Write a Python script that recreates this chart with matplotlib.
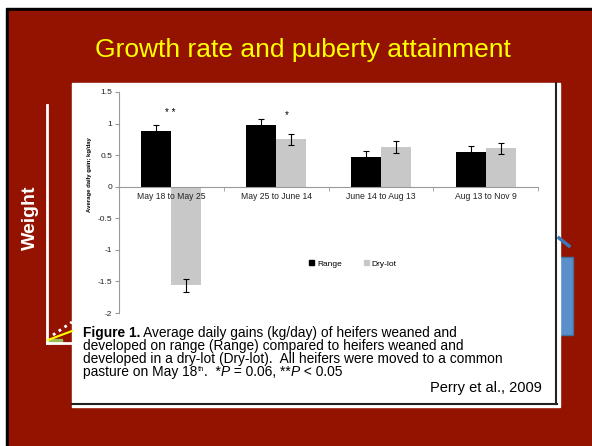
import numpy as np
import matplotlib
matplotlib.use("Agg")
import matplotlib.pyplot as plt
from matplotlib.patches import Rectangle, Patch

plt.rcParams['font.family'] = ['Liberation Sans', 'DejaVu Sans']

# Data
periods = ["May 18 to May 25", "May 25 to June 14", "June 14 to Aug 13", "Aug 13 to Nov 9"]
range_adg = [0.88, 0.97, 0.47, 0.55]
range_err = [0.10, 0.10, 0.10, 0.10]
drylot_adg = [-1.56, 0.75, 0.63, 0.61]
drylot_err = [0.10, 0.09, 0.09, 0.09]
sig_marks = ["* *", "*"]
sig_x = [-0.01, 1.10]
sig_y = [1.17, 1.13]
y_ticks = [-2, -1.5, -1, -0.5, 0, 0.5, 1, 1.5]
y_tick_labels = ["-2", "-1.5", "-1", "-0.5", "0", "0.5", "1", "1.5"]

RED = '#941200'
W, H = 592, 446
CAP = 9.9

fig = plt.figure(figsize=(W / 100, H / 100), dpi=100)
fig.patch.set_facecolor('white')

# slide background, drawn in pixel coordinates
bg = fig.add_axes([0, 0, 1, 1])
bg.set_xlim(0, W)
bg.set_ylim(H, 0)
bg.axis('off')
bg.add_patch(Rectangle((6, 8), W, H, color='black'))
bg.add_patch(Rectangle((9, 11), W, H, color=RED))

bg.text(303, 57, "Growth rate and puberty attainment", color='#FFFF00',
        fontsize=19, ha='center', va='baseline')

# the slide's own diagram peeking out behind the figure
bg.plot([47, 47], [105, 343], color='white', lw=2)
bg.plot([47, 72], [343, 343], color='white', lw=2)
bg.add_patch(Rectangle((47, 339), 15, 4, color='#9BBB59'))
bg.plot([48, 72], [340, 331], color='#FFFF00', lw=1.5)
bg.plot([53, 72], [335, 322], color='white', lw=2, ls=(0, (1, 1.5)))
bg.text(30, 218, "Weight", color='white', fontsize=14, fontweight='bold',
        rotation=90, ha='center', va='center')
bg.plot([559, 569], [238, 246], color='#3A78B5', lw=2.5)
bg.add_patch(Rectangle((559, 257), 14, 78, facecolor='#5B8FCB', edgecolor='#41719C', lw=1))

# pasted figure panel
bg.add_patch(Rectangle((72, 83), 488, 324, color='white'))
bg.plot([556, 556], [83, 404], color='#222222', lw=1.5)
bg.plot([72, 557], [404, 404], color='#222222', lw=1.5)

# caption
t1 = bg.text(83, 337, "Figure 1.", fontsize=CAP, fontweight='bold', ha='left', va='baseline')
bg.annotate(" Average daily gains (kg/day) of heifers weaned and", xy=(1, 0), xycoords=t1,
            fontsize=CAP, ha='left', va='bottom')
bg.text(83, 350, "developed on range (Range) compared to heifers weaned and",
        fontsize=CAP, ha='left', va='baseline')
bg.text(83, 363, "developed in a dry-lot (Dry-lot).  All heifers were moved to a common",
        fontsize=CAP, ha='left', va='baseline')

# last caption line: pieces chained one after another
base = bg.text(83, 376, "pasture on May 18", fontsize=CAP, ha='left', va='baseline')
sup = bg.annotate("th", xy=(1, 0.4), xycoords=base, fontsize=CAP * 0.55,
                  ha='left', va='bottom')
prev = sup
pieces = [(".  *", 'normal'), ("P", 'italic'), (" = 0.06, **", 'normal'),
          ("P", 'italic'), (" < 0.05", 'normal')]
for txt, style in pieces:
    prev = bg.annotate(txt, xy=(1, 0), xycoords=(prev, base), fontsize=CAP,
                       fontstyle=style, ha='left', va='bottom')
    base = prev
bg.text(542, 392, "Perry et al., 2009", fontsize=10.5, ha='right', va='baseline')

# chart
ax = fig.add_axes([119 / W, 1 - 313 / H, 419 / W, 221 / H])
ax.patch.set_alpha(0)
ax.set_xlim(-0.5, 3.5)
ax.set_ylim(-2, 1.5)
ax.set_axisbelow(False)

x = np.arange(len(periods))
bw = 0.286
ekw = dict(ecolor='black', elinewidth=0.8, capsize=2.5, capthick=0.8)
ax.bar(x - bw / 2, range_adg, bw, color='black', yerr=range_err, error_kw=ekw, zorder=2)
ax.bar(x + bw / 2, drylot_adg, bw, color='#C8C8C8', yerr=drylot_err, error_kw=ekw, zorder=2)

for s, sx, sy in zip(sig_marks, sig_x, sig_y):
    ax.text(sx, sy, s, fontsize=7, ha='center', va='center')

for side in ['top', 'right']:
    ax.spines[side].set_visible(False)
ax.spines['bottom'].set_position(('data', 0))
for side in ['left', 'bottom']:
    ax.spines[side].set_color('#9A9A9A')
    ax.spines[side].set_linewidth(0.8)

ax.set_xticks(x, periods)
ax.set_xticks(np.arange(-0.5, 4, 1), minor=True)
ax.tick_params(axis='x', which='major', length=0, pad=4, labelsize=6.2, labelcolor='#222222')
ax.tick_params(axis='x', which='minor', length=3, color='#9A9A9A', direction='out')
ax.set_yticks(y_ticks, y_tick_labels)
ax.tick_params(axis='y', length=3, color='#9A9A9A', pad=2, labelsize=6, labelcolor='#222222')

bg.text(89, 175, "Average daily gain; kg/day", fontsize=4.3, fontweight='bold',
        family=['Liberation Sans Narrow', 'Liberation Sans'],
        rotation=90, ha='center', va='center')

handles = [Patch(color='black', label='Range'), Patch(color='#C8C8C8', label='Dry-lot')]
ax.legend(handles=handles, loc='center', bbox_to_anchor=(0.558, 0.222), ncol=2,
          frameon=False, fontsize=6, handlelength=0.6, handleheight=0.6,
          handletextpad=0.4, columnspacing=2.6)

fig.savefig('out.png', dpi=100, facecolor=fig.get_facecolor())
